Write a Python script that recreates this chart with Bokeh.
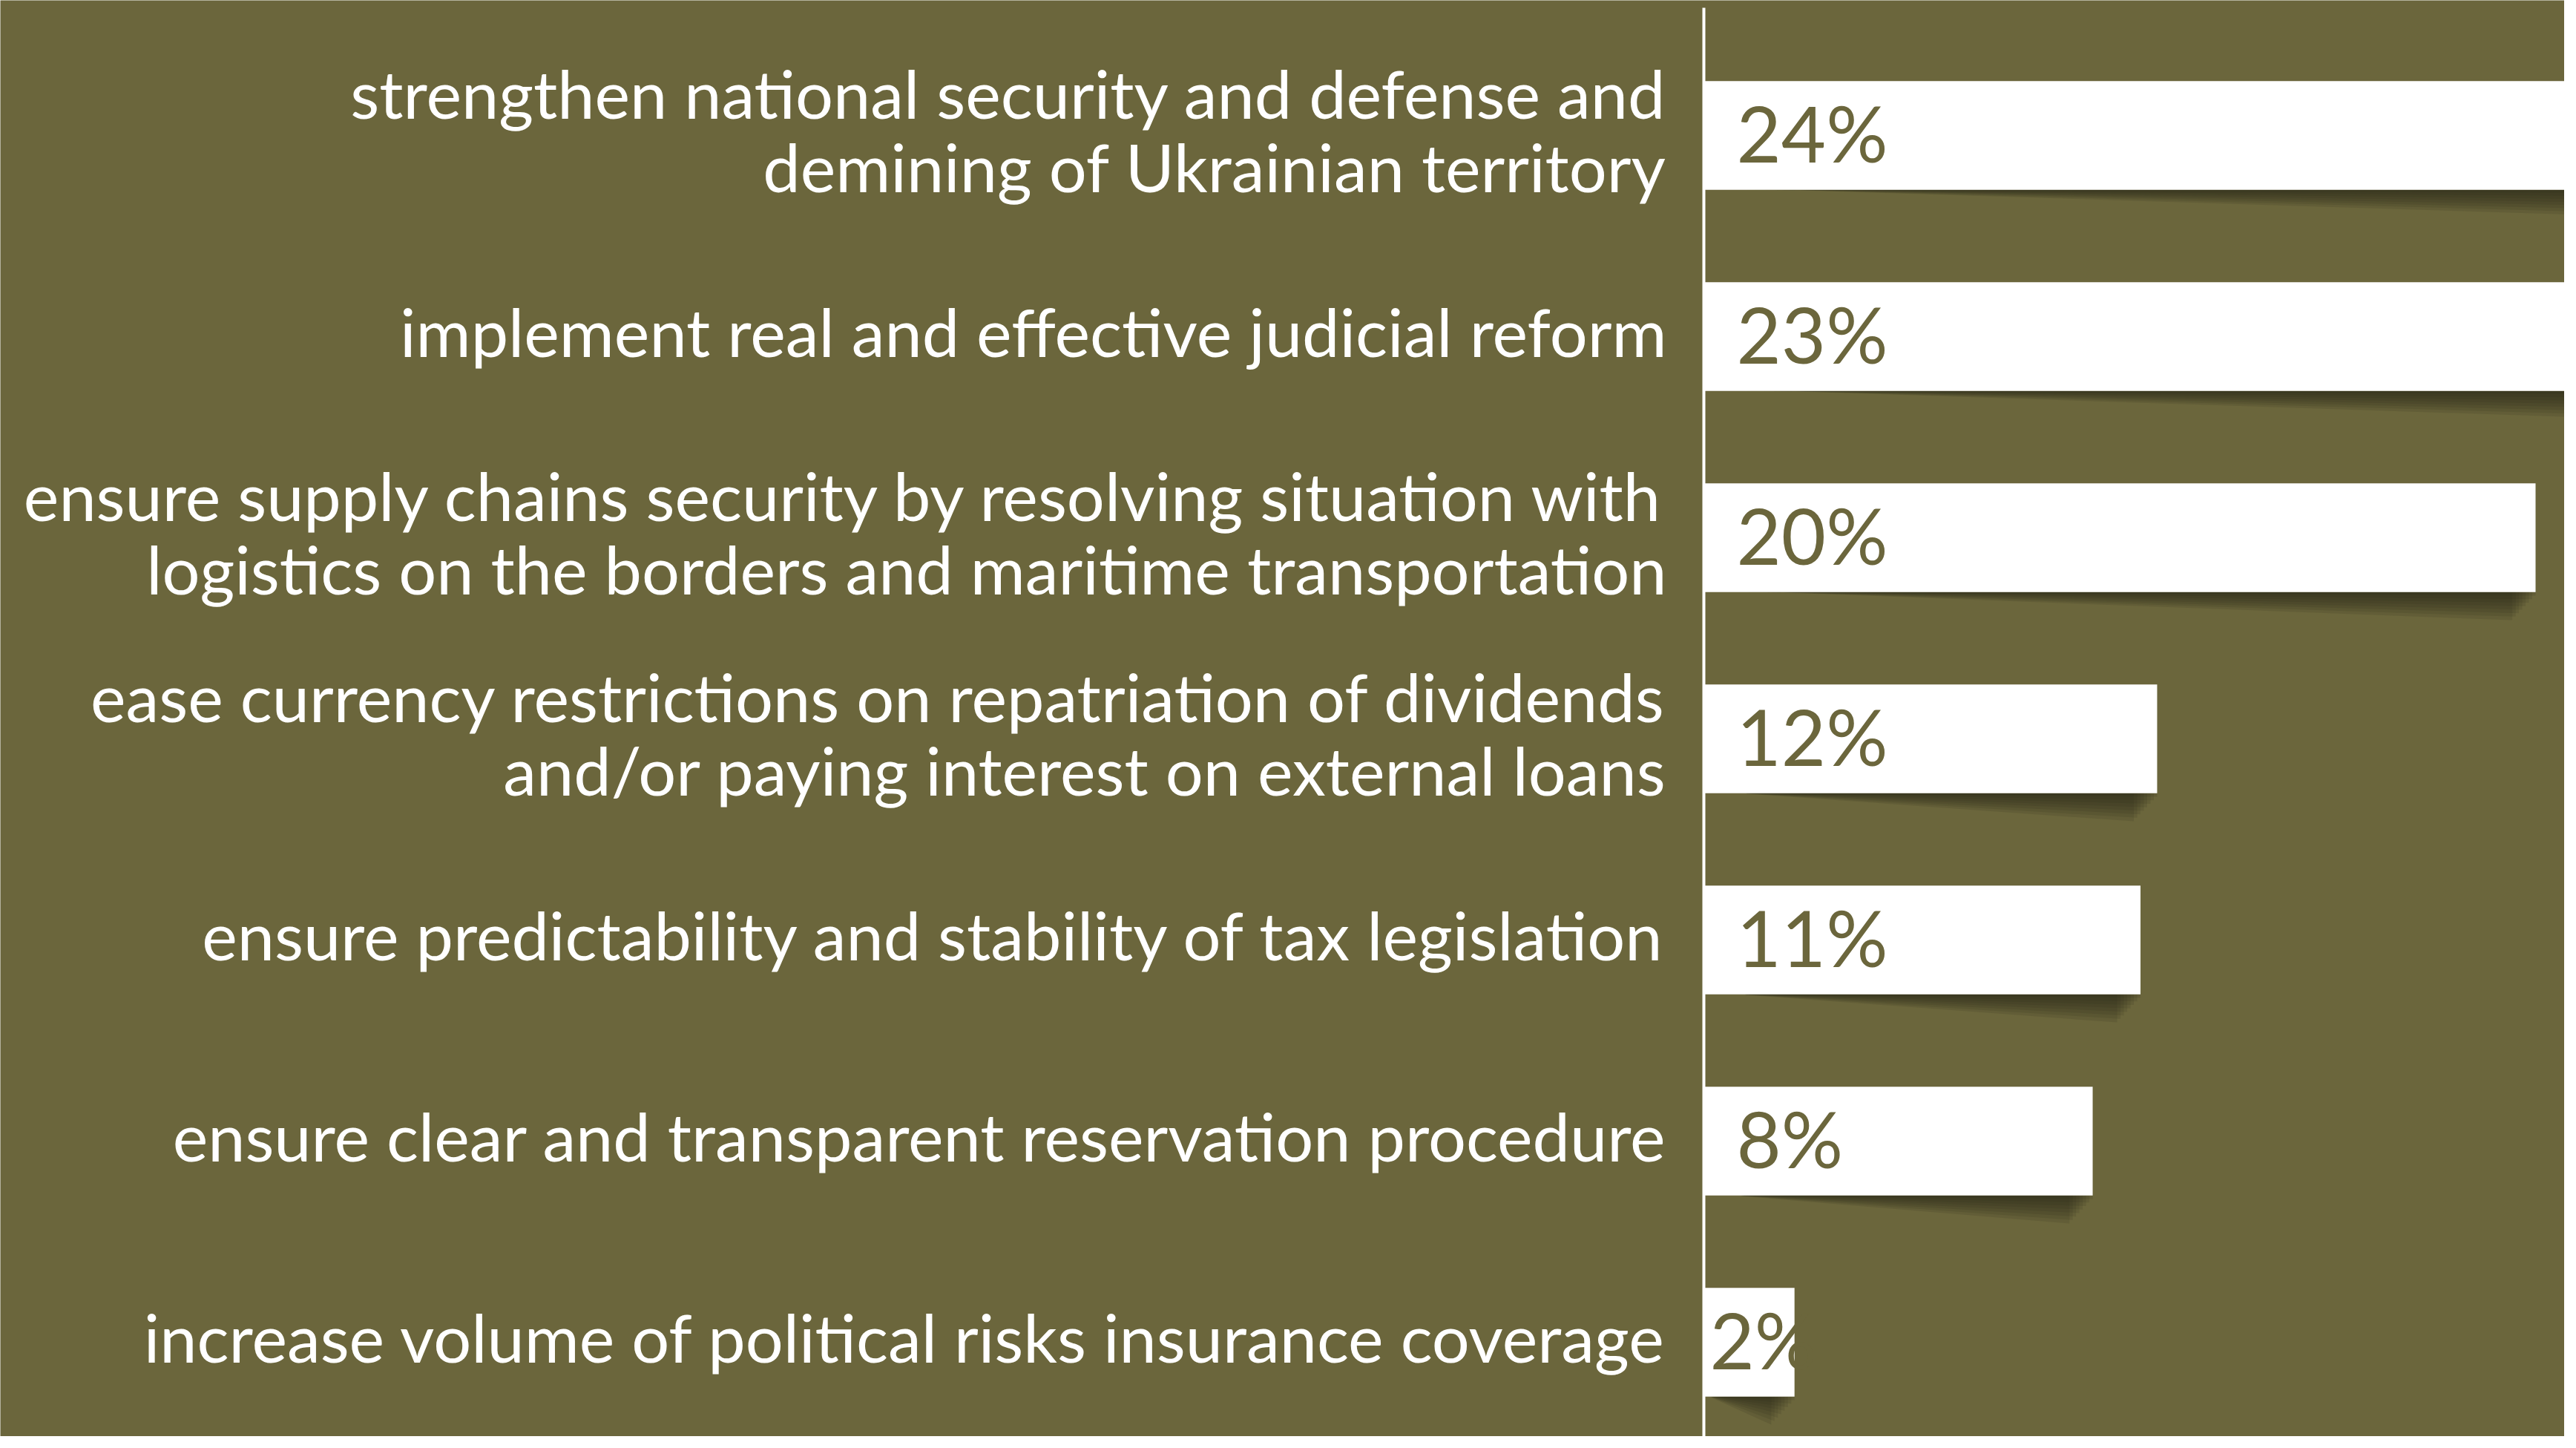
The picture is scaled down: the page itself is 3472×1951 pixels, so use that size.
from bokeh.plotting import figure
from bokeh.models import Range1d, ColumnDataSource
from bokeh.core.properties import value
from bokeh.embed import file_html
from bokeh.resources import INLINE

# ---- data ----
categories = [
    "strengthen national security and defense and\ndemining of Ukrainian territory",
    "implement real and effective judicial reform",
    "ensure supply chains security by resolving situation with\nlogistics on the borders and maritime transportation",
    "ease currency restrictions on repatriation of dividends\nand/or paying interest on external loans",
    "ensure predictability and stability of tax legislation",
    "ensure clear and transparent reservation procedure",
    "increase volume of political risks insurance coverage",
]
shares = [24, 23, 20, 12, 11, 8, 2]                      # printed labels, %
bar_values = [24, 23, 20, 10.9, 10.5, 9.35, 2.18]        # bar lengths as drawn, %

# ---- style ----
BG = "#6B663C"
SHADOW = "#2A2915"
W, H = 3456, 1935
PX_PER_UNIT_X = 56.05
ZERO_X = 2296
ROW_PX = 271
FIRST_ROW_PX = 182
BAR_H = 0.54

n = len(categories)
rows = list(range(n))

x_start = -ZERO_X / PX_PER_UNIT_X
x_end = (W - ZERO_X) / PX_PER_UNIT_X
y_top = -FIRST_ROW_PX / ROW_PX
y_bottom = (H - FIRST_ROW_PX) / ROW_PX

p = figure(width=W, height=H, output_backend="svg", toolbar_location=None,
           x_range=Range1d(x_start, x_end), y_range=Range1d(y_bottom, y_top),
           x_axis_location=None, y_axis_location=None,
           min_border=0, min_border_left=0, min_border_right=0,
           min_border_top=0, min_border_bottom=0)
p.background_fill_color = BG
p.border_fill_color = BG
p.outline_line_color = None
p.xgrid.visible = False
p.ygrid.visible = False

# shadows under bars (layered wedges)
N_LAYERS = 8
T_MAX = 0.14
for k in range(1, N_LAYERS + 1):
    xs, ys = [], []
    for r, v in zip(rows, bar_values):
        bottom = r + BAR_H / 2
        t = T_MAX * k / N_LAYERS
        right = max(v - 0.08 * (k - 1), 0.3)
        xs.append([1.0, right, right, right * 0.1])
        ys.append([bottom, bottom, bottom + t, bottom + t * 0.02])
    p.patches(xs, ys, fill_color=SHADOW, fill_alpha=0.13, line_color=None)

src = ColumnDataSource(dict(
    y=rows, v=bar_values, cat=categories,
    pct=[f"{s}%" for s in shares],
    pct_off=[44 if s > 5 else 8 for s in shares],
))

p.hbar(y="y", right="v", left=0, height=BAR_H, source=src,
       fill_color="white", line_color=None)

# axis line
p.segment(x0=0, x1=0, y0=y_top + 10 / ROW_PX, y1=y_bottom,
          line_color="white", line_width=4)

# category labels
p.text(x=0, y="y", text="cat", source=src, x_offset=-50, y_offset=-8,
       text_align="right", text_baseline="middle",
       text_font=value("Lato"), text_font_size="90px", text_color="white",
       text_line_height=0.92)

# percentage labels
p.text(x=0, y="y", text="pct", source=src, x_offset="pct_off", y_offset=-4,
       text_align="left", text_baseline="middle",
       text_font=value("Lato"), text_font_size="104px", text_color=BG)

html = file_html(p, INLINE)
html = html.replace("<body>", '<body style="background:%s">' % BG, 1)
open("out.html", "w").write(html)
